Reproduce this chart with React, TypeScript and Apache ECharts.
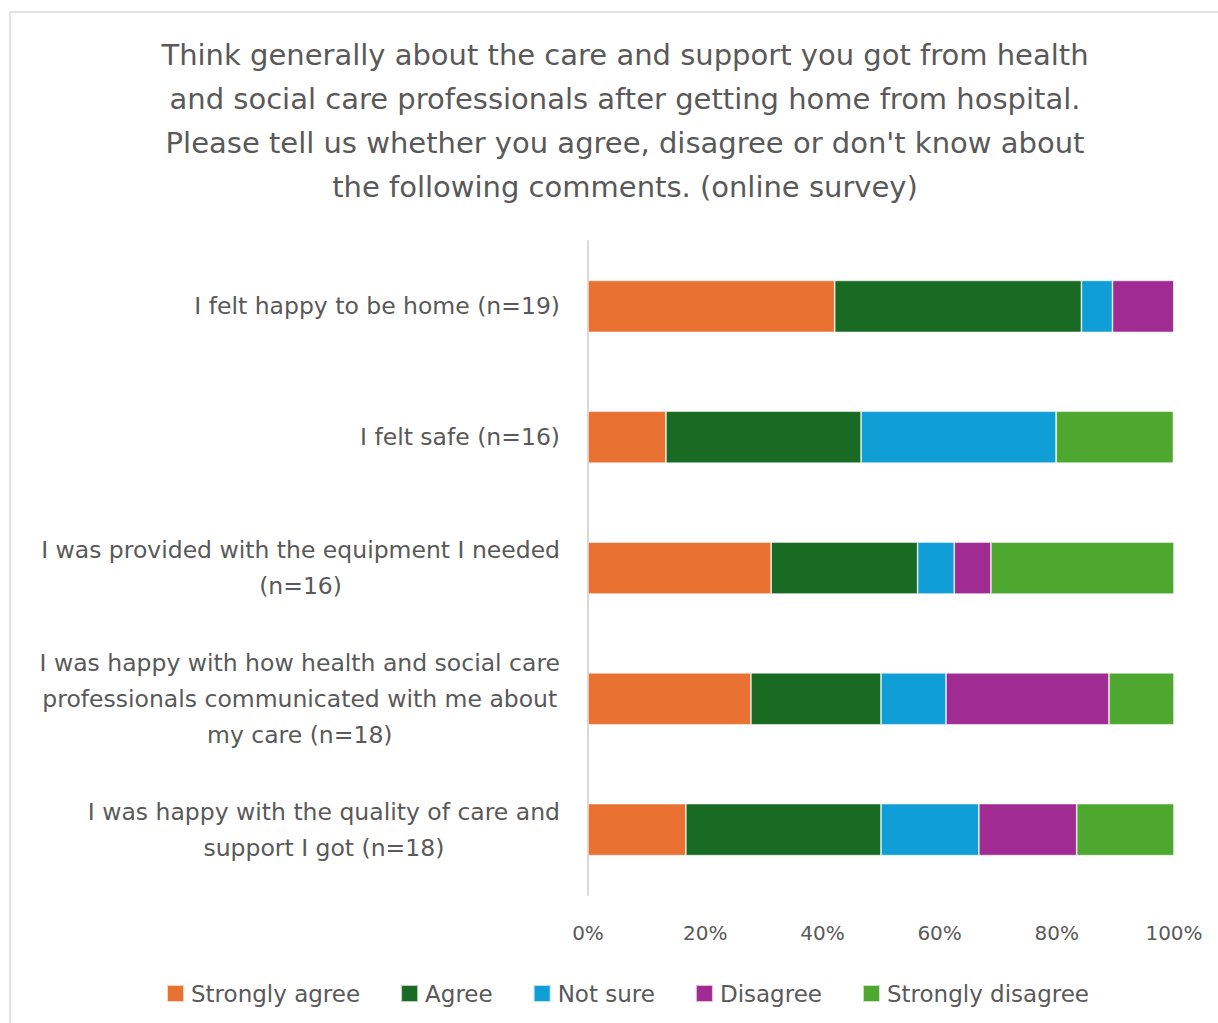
import React, { useEffect, useRef } from "react";
import * as echarts from "echarts";

const titleLines = [
  "Think generally about the care and support you got from health",
  "and social care professionals after getting home from hospital.",
  "Please tell us whether you agree, disagree or don't know about",
  "the following comments. (online survey)",
];

const categories = [
  "I felt happy to be home (n=19)",
  "I felt safe (n=16)",
  "I was provided with the equipment I needed\n(n=16)",
  "I was happy with how health and social care\nprofessionals communicated with me about\nmy care (n=18)",
  "I was happy with the quality of care and\nsupport I got (n=18)",
];

const seriesNames = ["Strongly agree", "Agree", "Not sure", "Disagree", "Strongly disagree"];

const stronglyAgree = [42.1, 13.3, 31.25, 27.8, 16.7];
const agree = [42.1, 33.3, 25.0, 22.2, 33.3];
const notSure = [5.3, 33.3, 6.25, 11.1, 16.7];
const disagree = [10.5, 0, 6.25, 27.8, 16.7];
const stronglyDisagree = [0, 20.0, 31.25, 11.1, 16.6];

const xTicks = { min: 0, max: 100, interval: 20 };

const colors = ["#E97132", "#196B24", "#0F9ED5", "#A02B93", "#4EA72E"];

const FONT = "'DejaVu Sans', sans-serif";
const TEXT = "#595959";

export default function App() {
  const ref = useRef<HTMLDivElement>(null);
  useEffect(() => {
    document.body.style.margin = "0";
    if (!ref.current) return;
    const chart = echarts.init(ref.current, undefined, { renderer: "svg" });
    const values = [stronglyAgree, agree, notSure, disagree, stronglyDisagree];
    chart.setOption({
      animation: false,
      color: colors,
      textStyle: { fontFamily: FONT, color: TEXT },
      graphic: [
        {
          type: "rect",
          shape: { x: 10, y: 12, width: 1300, height: 1100 },
          style: { fill: "none", stroke: "#d9d9d9", lineWidth: 1.5 },
          silent: true,
        },
      ],
      title: {
        text: titleLines.join("\n"),
        left: 620,
        top: 28,
        textAlign: "center",
        textStyle: {
          fontFamily: FONT,
          fontSize: 29,
          fontWeight: "normal",
          color: TEXT,
          lineHeight: 44,
        },
      },
      legend: {
        data: seriesNames,
        left: 161,
        top: 977,
        itemWidth: 17,
        itemHeight: 17,
        itemGap: 40,
        icon: "rect",
        textStyle: { fontFamily: FONT, fontSize: 23, color: TEXT, padding: [0, 0, 0, 2] },
      },
      grid: { left: 588, right: 44, top: 241, bottom: 128, containLabel: false },
      xAxis: {
        type: "value",
        min: xTicks.min,
        max: xTicks.max,
        interval: xTicks.interval,
        axisLine: { show: false },
        axisTick: { show: false },
        splitLine: { show: false },
        axisLabel: {
          formatter: "{value}%",
          fontFamily: FONT,
          fontSize: 20,
          color: TEXT,
          margin: 28,
        },
      },
      yAxis: {
        type: "category",
        inverse: true,
        data: categories,
        axisLine: { show: true, lineStyle: { color: "#d9d9d9", width: 2 } },
        axisTick: { show: false },
        axisLabel: {
          margin: 28,
          align: "right",
          fontFamily: FONT,
          fontSize: 23.5,
          color: TEXT,
          lineHeight: 36,
          formatter: (v: string) =>
            v
              .split("\n")
              .map((l) => `{c|${l}}`)
              .join("\n"),
          rich: {
            c: { align: "center", fontFamily: FONT, fontSize: 23.5, color: TEXT, lineHeight: 36 },
          },
        },
      },
      series: seriesNames.map((name, i) => ({
        name,
        type: "bar",
        stack: "total",
        barWidth: 52,
        data: values[i],
        itemStyle: { borderColor: "rgba(255,255,255,0.7)", borderWidth: 0.75 },
      })),
    });
    return () => chart.dispose();
  }, []);
  return <div ref={ref} style={{ width: 1218, height: 1023 }} />;
}
